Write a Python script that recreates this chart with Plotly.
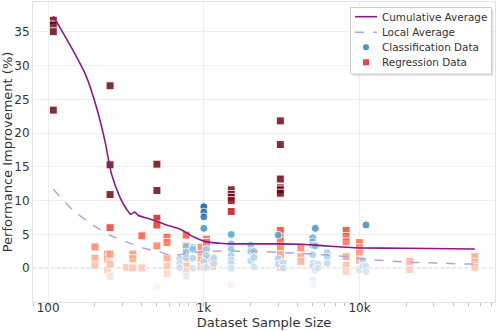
import plotly.graph_objects as go
import numpy as np

# Regression data (squares)
reg_x = [108, 108, 108, 108,
         200, 200, 200,
         240, 240, 240,
         250, 250, 250, 250, 250, 250, 250,
         320,
         350, 350, 350,
         400, 400,
         500, 500, 500, 500, 500, 500,
         580, 580, 580, 580, 580,
         770, 770, 770, 770, 770, 770,
         960, 960, 960, 960,
         1040, 1040, 1040, 1040,
         1140, 1140,
         1500, 1500, 1500, 1500, 1500, 1500,
         3100, 3100, 3100, 3100, 3100, 3100, 3100, 3100, 3100, 3100, 3100, 3100,
         4200, 4200, 4200,
         8200, 8200, 8200, 8200, 8200, 8200,
         10000, 10000, 10000, 10000,
         21000, 21000,
         55000, 55000, 55000]
reg_y = [36.7, 36.0, 35.0, 23.4,
         3.15, 1.5, 0.45,
         2.1, 1.4, -0.25,
         27.0, 15.3, 10.9, 6.0, 2.1, 0.6, -1.2,
         0.15,
         2.1, 1.4, 0.05,
         4.8, 0.05,
         15.4, 11.5, 7.4, 6.4, 3.3, -2.7,
         4.6, 3.8, 1.5, 0.3, -0.8,
         4.9, 3.3, 2.6, 1.0, 0.25, -0.5,
         3.1, 2.0, 1.2, 0.25,
         4.3, 3.8, 1.3, 0.9,
         1.0, 0.3,
         11.6, 10.9, 10.5, 10.0, 8.4, -2.5,
         21.8, 18.3, 13.2, 11.9, 11.6, 11.1, 5.6, 4.6, 4.0, 3.1, 2.0, 0.1,
         3.0, 1.7, 1.0,
         5.6, 4.7, 3.9, 1.7, 0.4, -0.5,
         3.8, 3.0, 2.2, 1.2,
         1.0, -0.2,
         1.7, 0.9, 0.1]

# Classification data (circles)
cls_x = [700, 700, 700,
         770, 770, 770, 770,
         850, 850, 850, 850,
         1000, 1000, 1000, 1000, 1000, 1000,
         1040, 1040, 1040,
         1160, 1160,
         1500, 1500, 1500, 1500, 1500, 1500, 1500,
         2000, 2000, 2000,
         2100, 2100, 2100,
         3000, 3000, 3000,
         3240, 3240,
         5000, 5000, 5000, 5000, 5000, 5000, 5000, 5000,
         5200, 5200, 5200,
         5400, 5400,
         6200, 6200, 6200,
         10000, 10000,
         10500, 10500,
         11000, 11000, 11000]
cls_y = [1.4, 0.7, 0.05,
         3.2, 2.4, 1.6, -1.2,
         3.1, 2.8, 1.5, 0.0,
         9.1, 8.3, 7.6, 5.9, 1.0, 0.1,
         2.8, 1.9, 0.1,
         1.5, 0.7,
         5.0, 3.6, 2.8, 1.9, 1.2, 0.7, 0.0,
         3.4, 2.5, 1.1,
         2.5, 1.6, 0.2,
         4.9, 1.4, 0.6,
         0.8, 0.0,
         4.5, 3.9, 3.4, 2.0, 0.7, 0.3, -1.7, -2.5,
         5.9, 3.3, -0.3,
         0.6, 0.0,
         2.3, 1.7, 0.7,
         0.0, -0.3,
         1.2, 0.3,
         6.4, 0.3, -0.5]

# Cumulative average line
cum_x = [108, 144, 175, 204, 231, 255, 288, 320, 340, 360, 380, 449, 520, 575, 700, 851,
         1040, 1270, 1550, 2000, 3000, 4200, 5000, 6500, 8200, 10000, 20000, 55000]
cum_y = [37.3, 32.3, 28.5, 23.9, 19.0, 14.0, 10.6, 8.7, 8.0, 8.3, 7.8, 7.3, 6.8, 6.4, 5.8, 4.7,
         3.9, 3.7, 3.6, 3.6, 3.6, 3.55, 3.45, 3.25, 3.1, 3.0, 2.95, 2.85]

# Local average line
loc_x = [108, 144, 194, 249, 318, 407, 520, 605, 700, 775, 1040, 2000, 4100, 8500, 10000, 21000, 55000]
loc_y = [11.7, 8.6, 6.4, 4.9, 3.9, 3.0, 2.4, 2.0, 2.0, 2.2, 2.5, 2.5, 2.2, 1.7, 1.4, 0.9, 0.6]

x_tickvals = [100, 1000, 10000]
x_ticktext = ["100", "1k", "10k"]
y_tickvals = [0, 5, 10, 15, 20, 25, 30, 35]

legend_names = ["Cumulative Average", "Local Average", "Classification Data", "Regression Data"]

minor_vals = [80, 90] + [m * 100 for m in range(2, 10)] + [m * 1000 for m in range(2, 10)] + [m * 10000 for m in range(2, 8)]

FONT = "DejaVu Sans"
TXT = "#333333"
W, H = 498, 331
ML, MR, MT, MB = 33, 3, 2, 29
PW, PH = W - ML - MR, H - MT - MB

CUM_COLOR = "#8b1a89"
LOC_COLOR = "#b7a1e3"
CLS_COLOR = "#4a8fc7"
REG_COLOR = "#e0474c"


def px(x):
    return (x - ML) / PW


def py(y):
    return (H - MB - y) / PH


fig = go.Figure()

fig.add_trace(go.Scatter(
    x=reg_x, y=reg_y, mode="markers", showlegend=False, name=legend_names[3],
    marker=dict(symbol="square", size=8, color=reg_y, colorscale="Reds", cmin=-3, cmax=11,
                opacity=0.82, line=dict(width=1, color="white")),
))
fig.add_trace(go.Scatter(
    x=cls_x, y=cls_y, mode="markers", showlegend=False, name=legend_names[2],
    marker=dict(symbol="circle", size=8, color=cls_y, colorscale="Blues", cmin=-3, cmax=11,
                opacity=0.82, line=dict(width=1, color="white")),
))
fig.add_trace(go.Scatter(
    x=cum_x, y=cum_y, mode="lines", name=legend_names[0], showlegend=False,
    line=dict(color=CUM_COLOR, width=1.6, shape="spline", smoothing=0.6),
))
fig.add_trace(go.Scatter(
    x=loc_x, y=loc_y, mode="lines", name=legend_names[1], showlegend=False,
    line=dict(color=LOC_COLOR, width=1.5, dash="dash", shape="spline", smoothing=0.6),
))

fig.add_shape(type="line", xref="paper", yref="y", x0=0, x1=1, y0=0, y1=0,
              line=dict(color="#a0a0a0", width=1, dash="dot"), layer="below")

# ---- custom legend box (matches compact spacing of the reference) ----
LX0, LX1, LY0, LY1 = 350.5, 491.5, 7.5, 74
fig.add_shape(type="rect", xref="paper", yref="paper",
              x0=px(LX0 + 2), x1=px(LX1 + 2), y0=py(LY0 + 2), y1=py(LY1 + 2),
              line=dict(width=0), fillcolor="rgba(0,0,0,0.10)", layer="above")
fig.add_shape(type="rect", xref="paper", yref="paper",
              x0=px(LX0), x1=px(LX1), y0=py(LY0), y1=py(LY1),
              line=dict(width=1, color="#cccccc"), fillcolor="white", layer="above")
rows = [16.7, 32.2, 47.3, 62.3]
fig.add_shape(type="line", xref="paper", yref="paper",
              x0=px(355), x1=px(377), y0=py(rows[0]), y1=py(rows[0]),
              line=dict(color=CUM_COLOR, width=1.6), layer="above")
fig.add_shape(type="line", xref="paper", yref="paper",
              x0=px(355), x1=px(377), y0=py(rows[1]), y1=py(rows[1]),
              line=dict(color=LOC_COLOR, width=1.5, dash="dash"), layer="above")
fig.add_shape(type="circle", xref="paper", yref="paper",
              x0=px(363), x1=px(369), y0=py(rows[2] - 3), y1=py(rows[2] + 3),
              line=dict(width=0), fillcolor=CLS_COLOR, layer="above")
fig.add_shape(type="rect", xref="paper", yref="paper",
              x0=px(363), x1=px(369), y0=py(rows[3] - 3), y1=py(rows[3] + 3),
              line=dict(width=0), fillcolor=REG_COLOR, layer="above")
for name, r in zip(legend_names, rows):
    fig.add_annotation(text=name, xref="paper", yref="paper", x=px(380), y=py(r),
                       xanchor="left", yanchor="middle", showarrow=False,
                       font=dict(family=FONT, size=10.4, color=TXT))

fig.update_layout(
    width=W, height=H,
    margin=dict(l=ML, r=MR, t=MT, b=MB, autoexpand=False),
    paper_bgcolor="white", plot_bgcolor="white",
    font=dict(family=FONT, size=12, color=TXT),
    showlegend=False,
    xaxis=dict(
        type="log", range=[np.log10(80), 4.87],
        tickvals=x_tickvals, ticktext=x_ticktext,
        ticks="outside", ticklen=3, tickcolor="#bbbbbb",
        ticklabelstandoff=-8,
        minor=dict(tickvals=minor_vals, ticks="outside", ticklen=3, tickcolor="#bbbbbb", showgrid=False),
        showgrid=True, gridcolor="#efefef", gridwidth=1,
        showline=True, linecolor="#e3e3e3", linewidth=1, mirror=True,
        zeroline=False,
        tickfont=dict(size=12, color=TXT),
        title=dict(text="Dataset Sample Size", font=dict(size=13, color=TXT), standoff=3),
    ),
    yaxis=dict(
        range=[-5, 39.4],
        tickvals=y_tickvals,
        ticks="",
        showgrid=True, gridcolor="#efefef", gridwidth=1,
        showline=True, linecolor="#e3e3e3", linewidth=1, mirror=True,
        zeroline=False,
        tickfont=dict(size=12, color=TXT),
        title=dict(text="Performance Improvement (%)", font=dict(size=13, color=TXT), standoff=2),
    ),
)

fig.write_html("out.html", config={"displayModeBar": False},
               post_script="document.body.style.margin='0';document.body.style.overflow='hidden';")
